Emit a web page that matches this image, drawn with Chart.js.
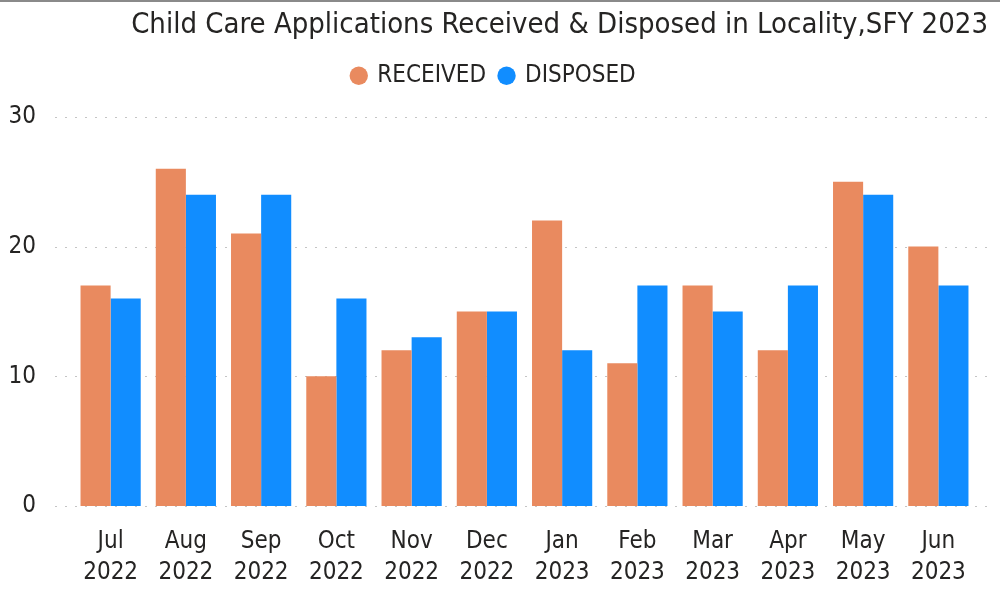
<!DOCTYPE html>
<html>
<head>
<meta charset="utf-8">
<script src="https://cdn.jsdelivr.net/npm/chart.js@4/dist/chart.umd.min.js"></script>
<style>
html,body{margin:0;padding:0;background:#fff;}
#wrap{position:relative;width:1000px;height:591px;}
#topline{position:absolute;left:0;top:0;width:1000px;height:2px;background:#8a8a8a;}
canvas{display:block;}
</style>
</head>
<body>
<div id="wrap">
<canvas id="c" width="1000" height="591"></canvas>
<div id="topline"></div>
</div>
<script>
const months = ['Jul','Aug','Sep','Oct','Nov','Dec','Jan','Feb','Mar','Apr','May','Jun'];
const years = ['2022','2022','2022','2022','2022','2022','2023','2023','2023','2023','2023','2023'];
const received = [17, 26, 21, 10, 12, 15, 22, 11, 17, 12, 25, 20];
const disposed = [16, 24, 24, 16, 13, 15, 12, 17, 15, 17, 24, 17];
const yTicks = [0, 10, 20, 30];
const titleText = 'Child Care Applications Received & Disposed in Locality,SFY 2023';

const labels = months.map((m, i) => [m, years[i]]);
const FONT = "'Liberation Sans Narrow', 'Arial Narrow', 'DejaVu Sans Condensed', sans-serif";

const gridPlugin = {
  id: 'extGrid',
  beforeDatasetsDraw(chart) {
    const ctx = chart.ctx;
    const y = chart.scales.y;
    ctx.save();
    ctx.strokeStyle = '#c4c4c4';
    ctx.lineWidth = 1;
    ctx.setLineDash([2, 8]);
    yTicks.forEach(v => {
      const py = Math.round(y.getPixelForValue(v)) + 0.5;
      ctx.beginPath();
      ctx.moveTo(55, py);
      ctx.lineTo(990, py);
      ctx.stroke();
    });
    ctx.restore();
  }
};

new Chart(document.getElementById('c'), {
  type: 'bar',
  data: {
    labels: labels,
    datasets: [
      { label: 'RECEIVED', data: received, backgroundColor: '#E98A5F', borderWidth: 0, xAxisID: 'x', yAxisID: 'y' },
      { label: 'DISPOSED', data: disposed, backgroundColor: '#118DFF', borderWidth: 0, xAxisID: 'x', yAxisID: 'y' }
    ]
  },
  options: {
    responsive: false,
    animation: false,
    layout: { padding: { left: 0, right: 12, top: 0, bottom: 0 } },
    datasets: { bar: { categoryPercentage: 0.8, barPercentage: 1.0 } },
    plugins: {
      title: {
        display: true,
        text: titleText,
        align: 'end',
        color: '#252423',
        font: { family: FONT, size: 29, weight: 'normal', lineHeight: 1.2 },
        padding: { top: 8, bottom: 7 },
        fullSize: true
      },
      legend: {
        display: true,
        position: 'top',
        labels: {
          usePointStyle: true,
          pointStyle: 'circle',
          boxWidth: 13,
          boxHeight: 13,
          padding: 14,
          color: '#252423',
          font: { family: FONT, size: 24 }
        }
      },
      tooltip: { enabled: false }
    },
    scales: {
      x: {
        grid: { display: false, drawTicks: false },
        border: { display: false },
        ticks: {
          color: '#252423',
          font: { family: FONT, size: 24, lineHeight: '31px' },
          padding: 20,
          maxRotation: 0,
          autoSkip: false
        },
        afterFit(s) { s.height = 85; }
      },
      xTop: {
        type: 'category',
        position: 'top',
        display: true,
        grid: { display: false, drawTicks: false },
        border: { display: false },
        ticks: { display: false },
        afterFit(s) { s.height = 19; }
      },
      y: {
        min: 0,
        max: 30,
        grid: { display: false, drawTicks: false },
        border: { display: false },
        afterBuildTicks(s) { s.ticks = yTicks.map(v => ({ value: v })); },
        ticks: {
          color: '#252423',
          font: { family: FONT, size: 24 },
          padding: 37
        },
        afterFit(s) { s.width = 73; }
      },
      yRight: {
        position: 'right',
        display: true,
        grid: { display: false, drawTicks: false },
        border: { display: false },
        ticks: { display: false },
        afterFit(s) { s.width = 12; }
      }
    }
  },
  plugins: [gridPlugin]
});
</script>
</body>
</html>
